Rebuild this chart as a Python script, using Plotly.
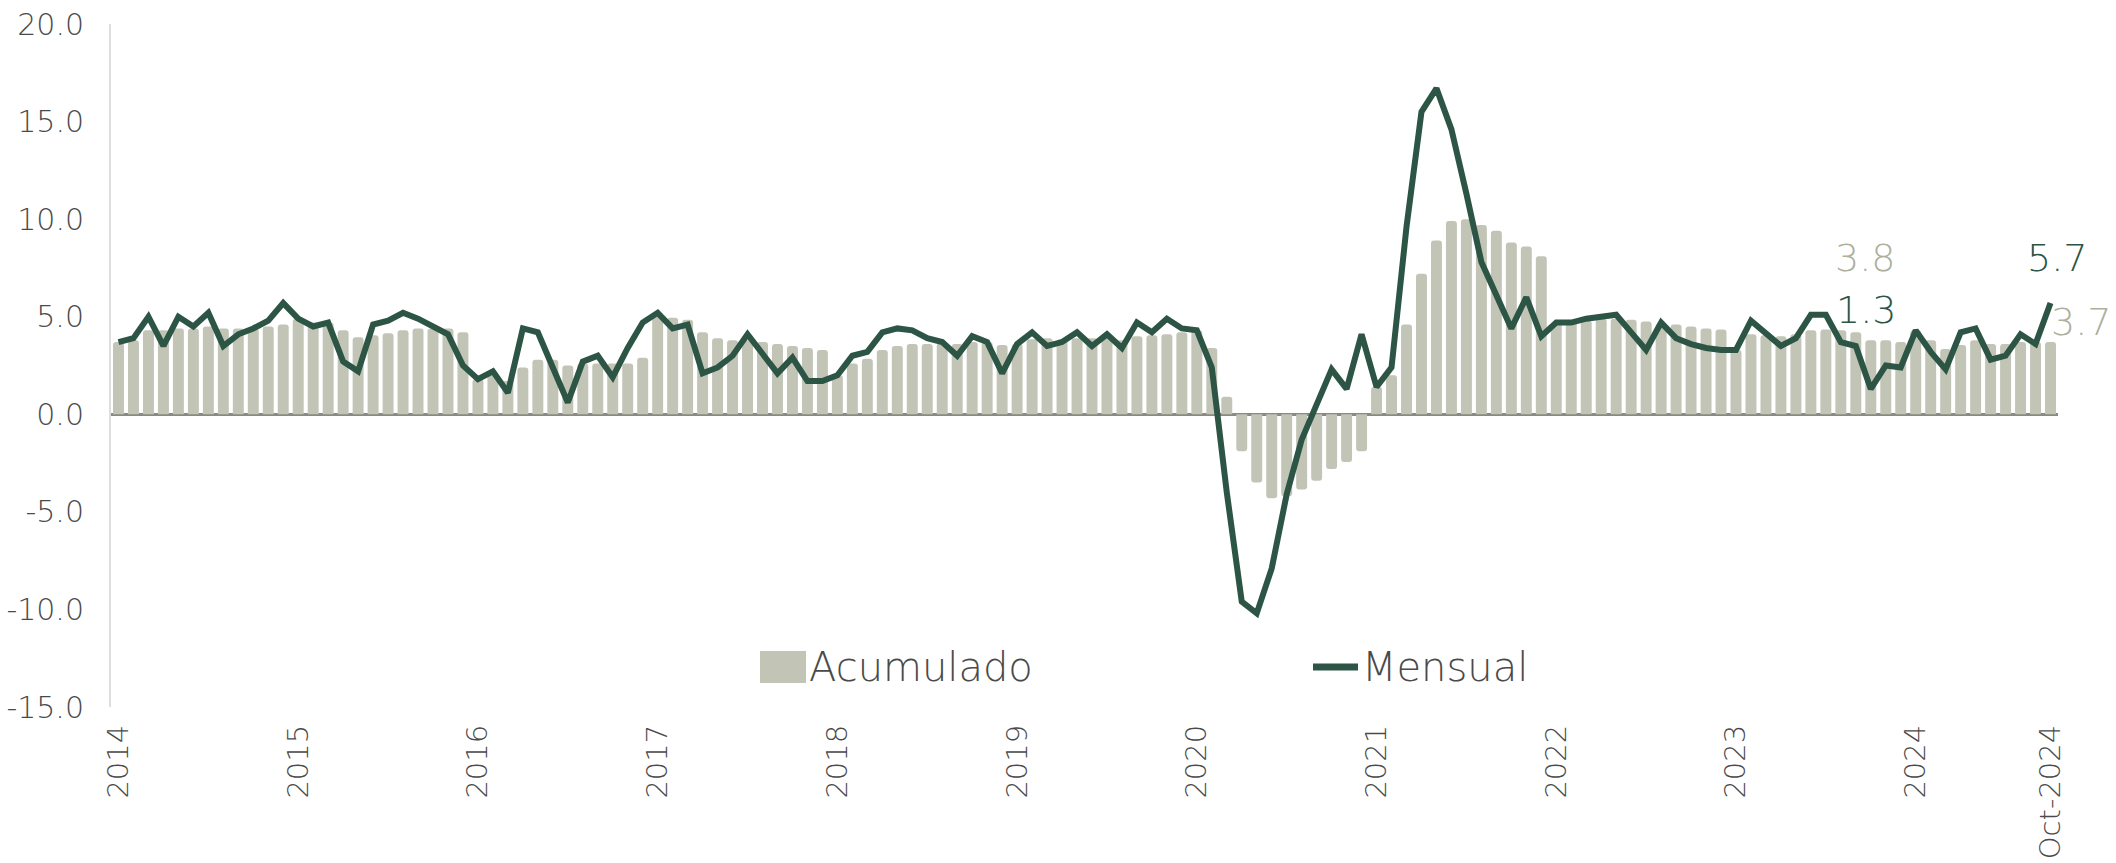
import plotly.graph_objects as go

# ---------------- data ----------------
months = [f"{y}-{m:02d}" for y in range(2014, 2025) for m in range(1, 13)][:130]

mensual = [
    3.7, 3.9, 5.0, 3.5, 5.0, 4.5, 5.2, 3.5, 4.1, 4.4, 4.8, 5.7,      # 2014
    4.9, 4.5, 4.7, 2.7, 2.2, 4.6, 4.8, 5.2, 4.9, 4.5, 4.1, 2.5,      # 2015
    1.8, 2.2, 1.1, 4.4, 4.2, 2.4, 0.6, 2.7, 3.0, 1.9, 3.4, 4.7,      # 2016
    5.2, 4.4, 4.6, 2.1, 2.4, 3.0, 4.1, 3.1, 2.1, 2.9, 1.7, 1.7,      # 2017
    2.0, 3.0, 3.2, 4.2, 4.4, 4.3, 3.9, 3.7, 3.0, 4.0, 3.7, 2.1,      # 2018
    3.6, 4.2, 3.5, 3.7, 4.2, 3.5, 4.1, 3.4, 4.7, 4.2, 4.9, 4.4,      # 2019
    4.3, 2.4, -4.0, -9.6, -10.2, -7.9, -4.1, -1.3, 0.6, 2.3, 1.3, 4.1,  # 2020
    1.4, 2.4, 9.6, 15.5, 16.7, 14.6, 11.3, 7.8, 6.1, 4.4, 6.0, 4.0,  # 2021
    4.7, 4.7, 4.9, 5.0, 5.1, 4.2, 3.3, 4.7, 3.9, 3.6, 3.4, 3.3,      # 2022
    3.3, 4.8, 4.1, 3.5, 3.9, 5.1, 5.1, 3.7, 3.5, 1.3, 2.5, 2.4,      # 2023
    4.3, 3.2, 2.3, 4.2, 4.4, 2.8, 3.0, 4.1, 3.6, 5.7,                # 2024
]

acumulado = [
    3.7, 3.8, 4.3, 4.3, 4.4, 4.4, 4.5, 4.4, 4.4, 4.4, 4.5, 4.6,
    4.9, 4.7, 4.7, 4.3, 3.95, 4.05, 4.15, 4.3, 4.4, 4.4, 4.4, 4.2,
    1.8, 2.0, 1.7, 2.4, 2.8, 2.8, 2.5, 2.6, 2.6, 2.6, 2.6, 2.9,
    5.0, 4.95, 4.85, 4.2, 3.9, 3.8, 3.8, 3.7, 3.6, 3.5, 3.4, 3.3,
    2.0, 2.6, 2.85, 3.3, 3.5, 3.6, 3.6, 3.65, 3.6, 3.7, 3.7, 3.55,
    3.6, 3.85, 3.9, 3.85, 3.9, 3.9, 3.9, 3.8, 4.0, 4.05, 4.1, 4.2,
    4.3, 3.4, 0.9, -1.9, -3.5, -4.3, -4.2, -3.85, -3.4, -2.8, -2.45, -1.9,
    1.4, 2.0, 4.6, 7.2, 8.9, 9.9, 10.0, 9.7, 9.4, 8.8, 8.6, 8.1,
    4.7, 4.8, 4.8, 4.9, 4.9, 4.85, 4.75, 4.65, 4.6, 4.5, 4.4, 4.35,
    3.3, 4.1, 4.05, 4.0, 4.1, 4.3, 4.35, 4.3, 4.2, 3.8, 3.8, 3.7,
    4.3, 3.8, 3.35, 3.55, 3.8, 3.6, 3.6, 3.7, 3.7, 3.7,
]

x_tick_vals = ["2014-01", "2015-01", "2016-01", "2017-01", "2018-01", "2019-01",
               "2020-01", "2021-01", "2022-01", "2023-01", "2024-01", "2024-10"]
x_tick_text = ["2014", "2015", "2016", "2017", "2018", "2019",
               "2020", "2021", "2022", "2023", "2024", "Oct-2024"]

y_tick_vals = [-15, -10, -5, 0, 5, 10, 15, 20]
y_tick_text = ["-15.0", "-10.0", "-5.0", "0.0", "5.0", "10.0", "15.0", "20.0"]

# ---------------- style ----------------
BAR_C = "#c2c4b6"
LINE_C = "#2d5546"
TXT_C = "#4a4a4a"
LBL_GREY = "#adaf9f"
FONT = "DejaVu Sans"
WEIGHT = 200

W, H = 2116, 863
L, R, T, B = 111, 58, 24, 156
PW, PH = W - L - R, H - T - B


def px(xp):
    return (xp - L) / PW


def py(yp):
    return (H - B - yp) / PH


fig = go.Figure()
fig.add_trace(go.Bar(x=months, y=acumulado, name="Acumulado",
                     marker=dict(color=BAR_C, cornerradius=3, line=dict(width=0)),
                     showlegend=False))
fig.add_trace(go.Scatter(x=months, y=mensual, name="Mensual", mode="lines",
                         line=dict(color=LINE_C, width=6), showlegend=False))

i_oct23 = months.index("2023-10")
i_oct24 = months.index("2024-10")
ann = [
    dict(x=months[i_oct23], y=acumulado[i_oct23], text=f"{acumulado[i_oct23]:.1f}",
         color=LBL_GREY, xshift=-6, yshift=82),
    dict(x=months[i_oct23], y=mensual[i_oct23], text=f"{mensual[i_oct23]:.1f}",
         color=LINE_C, xshift=-5, yshift=79),
    dict(x=months[i_oct24], y=mensual[i_oct24], text=f"{mensual[i_oct24]:.1f}",
         color=LINE_C, xshift=6, yshift=45),
    dict(x=months[i_oct24], y=acumulado[i_oct24], text=f"{acumulado[i_oct24]:.1f}",
         color=LBL_GREY, xshift=30, yshift=20),
]
for a in ann:
    fig.add_annotation(x=a["x"], y=a["y"], text=a["text"], showarrow=False,
                       xshift=a["xshift"], yshift=a["yshift"],
                       font=dict(family=FONT, size=38, color=a["color"], weight=WEIGHT),
                       xanchor="center", yanchor="middle")

# manual legend
fig.add_shape(type="rect", xref="paper", yref="paper",
              x0=px(760), x1=px(806), y0=py(683), y1=py(651),
              fillcolor=BAR_C, line=dict(width=0))
fig.add_annotation(xref="paper", yref="paper", x=px(807), y=py(667), text="Acumulado",
                   showarrow=False, xanchor="left", yanchor="middle",
                   font=dict(family=FONT, size=40, color=TXT_C, weight=WEIGHT))
fig.add_shape(type="line", xref="paper", yref="paper",
              x0=px(1313), x1=px(1358), y0=py(667), y1=py(667),
              line=dict(color=LINE_C, width=7))
fig.add_annotation(xref="paper", yref="paper", x=px(1360), y=py(667), text="Mensual",
                   showarrow=False, xanchor="left", yanchor="middle",
                   font=dict(family=FONT, size=40, color=TXT_C, weight=WEIGHT))

fig.update_layout(
    width=W, height=H,
    margin=dict(l=L, r=R, t=T, b=B, pad=0, autoexpand=False),
    paper_bgcolor="white", plot_bgcolor="white",
    bargap=0.27,
    font=dict(family=FONT, color=TXT_C, weight=WEIGHT),
    showlegend=False,
    xaxis=dict(type="category", categoryorder="array", categoryarray=months,
               range=[-0.5, len(months) - 0.5], automargin=False,
               tickmode="array", tickvals=x_tick_vals, ticktext=x_tick_text,
               tickangle=-90, tickfont=dict(family=FONT, size=29, color=TXT_C, weight=WEIGHT),
               ticklabelstandoff=11,
               showgrid=False, showline=False, zeroline=False, ticks=""),
    yaxis=dict(range=[-15, 20], tickmode="array", tickvals=y_tick_vals, automargin=False,
               ticktext=y_tick_text,
               tickfont=dict(family=FONT, size=30, color=TXT_C, weight=WEIGHT),
               ticklabelstandoff=19,
               showgrid=False, showline=True, linecolor="#dedede", linewidth=2,
               zeroline=True, zerolinecolor="#8a8a82", zerolinewidth=3, ticks=""),
)

fig.write_html("out.html",
               config={"displayModeBar": False},
               post_script="document.body.style.margin='0px';"
                           "document.body.style.overflow='hidden';")
